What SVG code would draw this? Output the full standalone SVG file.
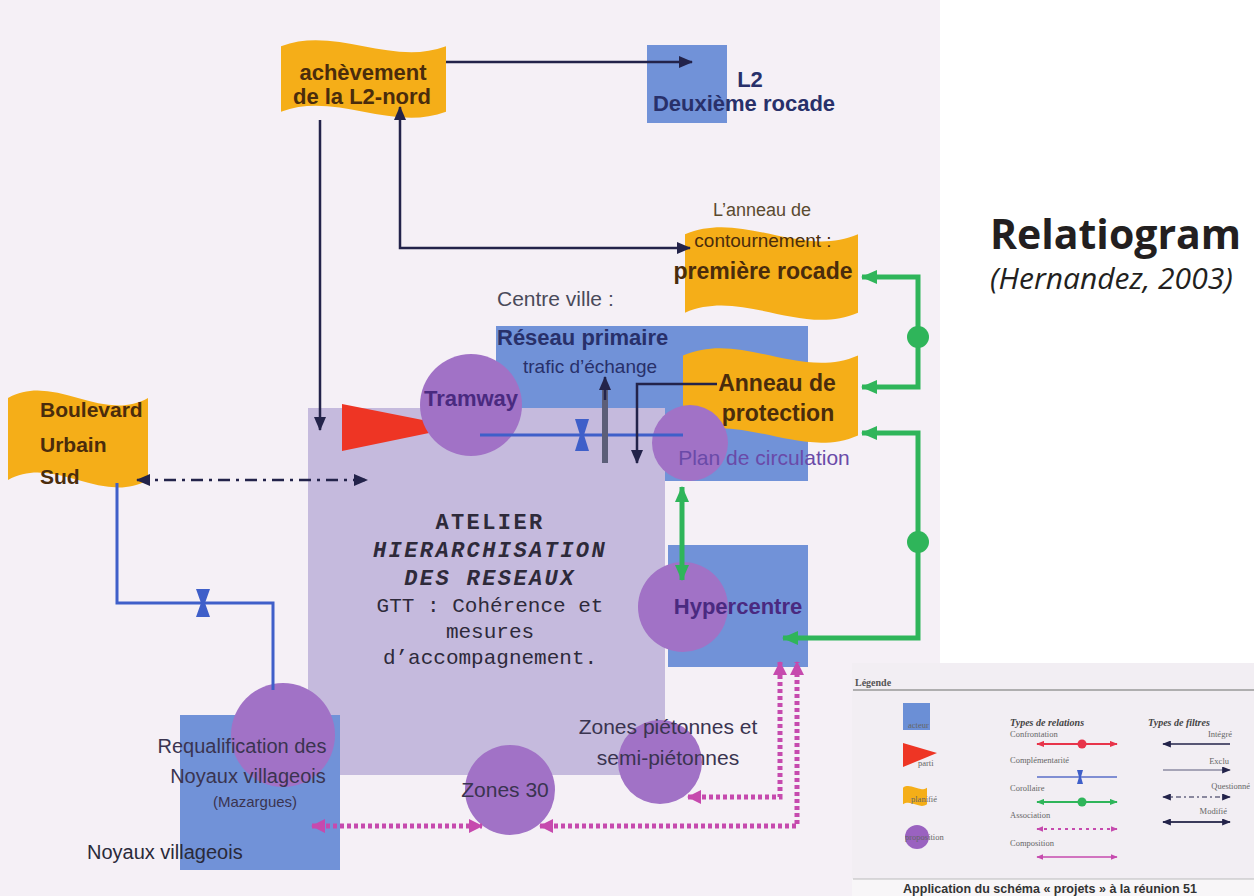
<svg xmlns="http://www.w3.org/2000/svg" width="1254" height="896" viewBox="0 0 1254 896">
<defs>
<style>
.t{font-family:"Liberation Sans",Arial,sans-serif;}
.b{font-weight:bold;}
.ft{fill:#4a2c0c;}
.nt{fill:#28306a;}
.pt{fill:#4a2a80;}
.mono{font-family:"Liberation Mono","Courier New",monospace;fill:#2e2a3a;font-size:21px;}
.monob{font-weight:bold;font-size:22px;letter-spacing:2.4px;}
.nav{stroke:#23234a;stroke-width:2.5;fill:none;}
.grn{stroke:#2fb55a;stroke-width:5;fill:none;}
.blu{stroke:#3f5fc9;stroke-width:3;fill:none;}
.pnk{stroke:#c64aae;stroke-width:5;fill:none;stroke-dasharray:4 3;}
.flag{fill:#f5ae18;}
.box{fill:#7192d8;}
.circ{fill:#a172c6;}
.bow{fill:#3f5fc9;}
.leg{font-family:"Liberation Serif","Times New Roman",serif;font-size:8.5px;fill:#666;}
.legh{font-family:"Liberation Serif","Times New Roman",serif;font-size:10px;font-style:italic;font-weight:bold;fill:#444;}
</style>
<path id="flagShape" d="M0,12 C33,-12 67,36 100,12 L100,88 C67,112 33,64 0,88 Z"/>
<marker id="ahN" viewBox="0 0 14 12" refX="13" refY="6" markerWidth="14" markerHeight="12" markerUnits="userSpaceOnUse" orient="auto-start-reverse"><path d="M0,0 L14,6 L0,12 Z" fill="#23234a"/></marker>
<marker id="ahG" viewBox="0 0 16 14" refX="15" refY="7" markerWidth="16" markerHeight="14" markerUnits="userSpaceOnUse" orient="auto-start-reverse"><path d="M0,0 L16,7 L0,14 Z" fill="#2fb55a"/></marker>
<marker id="ahP" viewBox="0 0 14 14" refX="13" refY="7" markerWidth="14" markerHeight="14" markerUnits="userSpaceOnUse" orient="auto-start-reverse"><path d="M0,0 L14,7 L0,14 Z" fill="#c64aae"/></marker>
<marker id="sR" viewBox="0 0 10 8" refX="9" refY="4" markerWidth="8" markerHeight="7" markerUnits="userSpaceOnUse" orient="auto-start-reverse"><path d="M0,0 L10,4 L0,8 Z" fill="#e8344a"/></marker>
<marker id="sG" viewBox="0 0 10 8" refX="9" refY="4" markerWidth="8" markerHeight="7" markerUnits="userSpaceOnUse" orient="auto-start-reverse"><path d="M0,0 L10,4 L0,8 Z" fill="#2fb55a"/></marker>
<marker id="sP" viewBox="0 0 10 8" refX="9" refY="4" markerWidth="7" markerHeight="6" markerUnits="userSpaceOnUse" orient="auto-start-reverse"><path d="M0,0 L10,4 L0,8 Z" fill="#c64aae"/></marker>
<marker id="sN" viewBox="0 0 10 8" refX="9" refY="4" markerWidth="9" markerHeight="7" markerUnits="userSpaceOnUse" orient="auto-start-reverse"><path d="M0,0 L10,4 L0,8 Z" fill="#23234a"/></marker>
</defs>

<rect x="0" y="0" width="1254" height="896" fill="#ffffff"/>
<rect x="0" y="0" width="940" height="896" fill="#f5f0f6"/>

<g id="title">
<text x="990" y="249" font-family="'Open Sans','Noto Sans',sans-serif" font-weight="bold" font-size="41" fill="#231f20">Relatiogram</text>
<text x="990" y="289" font-family="'Open Sans','Noto Sans',sans-serif" font-style="italic" font-size="30" fill="#231f20">(Hernandez, 2003)</text>
</g>

<g id="node-reseau-primaire">
<rect class="box" x="496" y="326" width="312" height="155"/>
<text class="t" x="497" y="306" font-size="21" fill="#4a4a5a">Centre ville :</text>
<text class="t b nt" x="497" y="345" font-size="22" fill="#2a3a80">Réseau primaire</text>
<text class="t nt" x="523" y="373" font-size="19">trafic d’échange</text>
</g>

<g id="node-atelier">
<rect x="308" y="408" width="357" height="367" fill="#c5badd"/>
<text class="mono monob" x="490" y="529" text-anchor="middle">ATELIER</text>
<text class="mono monob" x="490" y="557" text-anchor="middle" font-style="italic">HIERARCHISATION</text>
<text class="mono monob" x="490" y="585" text-anchor="middle" font-style="italic">DES RESEAUX</text>
<text class="mono" x="490" y="612" text-anchor="middle">GTT : Cohérence et</text>
<text class="mono" x="490" y="638" text-anchor="middle">mesures</text>
<text class="mono" x="490" y="664" text-anchor="middle">d’accompagnement.</text>
</g>

<g id="node-l2">
<rect class="box" x="647" y="45" width="80" height="78" fill="#7a9ad9"/>
<text class="t b nt" x="750" y="87" font-size="22" text-anchor="middle">L2</text>
<text class="t b nt" x="744" y="111" font-size="22" text-anchor="middle">Deuxième rocade</text>
</g>

<g id="node-acheve">
<use href="#flagShape" class="flag" transform="translate(281,36) scale(1.65,0.86)"/>
<text class="t b ft" x="363" y="80" font-size="22" text-anchor="middle">achèvement</text>
<text class="t b ft" x="362" y="104" font-size="22" text-anchor="middle">de la L2-nord</text>
</g>

<g id="node-contournement">
<use href="#flagShape" class="flag" transform="translate(685,222) scale(1.73,1.03)"/>
<text class="t" x="762" y="216" font-size="18" fill="#5a4a30" text-anchor="middle">L’anneau de</text>
<text class="t ft" x="763" y="247" font-size="19" text-anchor="middle">contournement :</text>
<text class="t b ft" x="763" y="279" font-size="23" text-anchor="middle">première rocade</text>
</g>

<g id="node-protection">
<use href="#flagShape" class="flag" transform="translate(683,343) scale(1.75,1.05)"/>
<text class="t b ft" x="777" y="391" font-size="23" text-anchor="middle">Anneau de</text>
<text class="t b ft" x="778" y="421" font-size="23" text-anchor="middle">protection</text>
</g>

<g id="node-boulevard">
<use href="#flagShape" class="flag" transform="translate(8,385) scale(1.40,1.08)"/>
<text class="t b ft" x="40" y="417" font-size="21">Boulevard</text>
<text class="t b ft" x="40" y="452" font-size="21">Urbain</text>
<text class="t b ft" x="40" y="484" font-size="21">Sud</text>
</g>

<g id="node-tramway">
<polygon points="342,404 342,451 458,427" fill="#ee3524"/>
<circle class="circ" cx="471" cy="405" r="51"/>
<text class="t b pt" x="471" y="406" font-size="22" text-anchor="middle">Tramway</text>
</g>

<g id="node-plan">
<circle class="circ" cx="690" cy="443" r="38"/>
<text class="t" x="764" y="465" font-size="21" fill="#6a4aa8" text-anchor="middle">Plan de circulation</text>
</g>

<g id="node-hypercentre">
<rect class="box" x="668" y="545" width="140" height="122"/>
<circle class="circ" cx="683" cy="607" r="45"/>
<text class="t b pt" x="738" y="614" font-size="22" text-anchor="middle">Hypercentre</text>
</g>

<g id="node-noyaux">
<rect class="box" x="180" y="715" width="160" height="155"/>
<circle class="circ" cx="283" cy="735" r="52"/>
<text class="t" x="242" y="753" font-size="20" fill="#3a3450" text-anchor="middle">Requalification des</text>
<text class="t" x="248" y="783" font-size="20" fill="#3a3450" text-anchor="middle">Noyaux villageois</text>
<text class="t" x="255" y="807" font-size="15" fill="#3a3450" text-anchor="middle">(Mazargues)</text>
<text class="t" x="87" y="859" font-size="20" fill="#2a2a3a">Noyaux villageois</text>
</g>

<g id="node-zones30">
<circle class="circ" cx="510" cy="790" r="45"/>
<text class="t" x="505" y="797" font-size="21" fill="#3a3450" text-anchor="middle">Zones 30</text>
</g>

<g id="node-pietonnes">
<circle class="circ" cx="660" cy="762" r="42"/>
<text class="t" x="668" y="734" font-size="21" fill="#3a3450" text-anchor="middle">Zones piétonnes et</text>
<text class="t" x="668" y="765" font-size="21" fill="#3a3450" text-anchor="middle">semi-piétonnes</text>
</g>

<g id="connectors">
<path class="nav" d="M446,62 H692" marker-end="url(#ahN)"/>
<path class="nav" d="M320,120 V430" marker-end="url(#ahN)"/>
<path class="nav" d="M400,107 V248 H690" marker-start="url(#ahN)" marker-end="url(#ahN)"/>
<path class="nav" d="M137,480 H367" stroke-dasharray="12 6 3 6" marker-start="url(#ahN)" marker-end="url(#ahN)"/>
<path class="blu" d="M117,483 V603 H273 V690"/>
<path class="bow" d="M196,589 H210 L205,603 L210,617 H196 L201,603 Z"/>
<path class="blu" d="M480,435 H683"/>
<path class="bow" d="M575,419 H589 L584,435 L589,451 H575 L580,435 Z"/>
<path d="M605,463 V384" stroke="#5c5e78" stroke-width="6" fill="none"/>
<path class="nav" d="M605,400 V377" marker-end="url(#ahN)"/>
<path class="nav" d="M717,384 H637 V463" marker-end="url(#ahN)"/>
<path class="grn" d="M862,277 H918 V387 H862" marker-start="url(#ahG)" marker-end="url(#ahG)"/>
<circle cx="918" cy="337" r="11" fill="#2fb55a"/>
<path class="grn" d="M862,433 H918 V638 H783" marker-start="url(#ahG)" marker-end="url(#ahG)"/>
<circle cx="918" cy="542" r="11" fill="#2fb55a"/>
<path class="grn" d="M682,487 V580" stroke-width="4" marker-start="url(#ahG)" marker-end="url(#ahG)"/>
<path class="pnk" d="M688,797 H780 V662" marker-start="url(#ahP)" marker-end="url(#ahP)"/>
<path class="pnk" d="M312,826 H482" marker-start="url(#ahP)" marker-end="url(#ahP)"/>
<path class="pnk" d="M540,826 H797 V662" marker-start="url(#ahP)" marker-end="url(#ahP)"/>
</g>

<g id="legend">
<rect x="852" y="663" width="402" height="233" fill="#f2eef3"/>
<rect x="852" y="879" width="402" height="17" fill="#f8f6f8"/>
<text x="855" y="686" font-family="'Liberation Serif',serif" font-size="10" font-weight="bold" fill="#555">Légende</text>
<line x1="853" y1="690" x2="1254" y2="690" stroke="#999" stroke-width="1.5"/>
<rect x="903" y="703" width="27" height="27" fill="#6b8fd6"/>
<text class="leg" x="908" y="728" font-size="7">acteur</text>
<polygon points="903,743 903,767 937,753" fill="#ee3524"/>
<text class="leg" x="918" y="766" font-size="7">parti</text>
<use href="#flagShape" class="flag" transform="translate(903,785) scale(0.24,0.22)"/>
<text class="leg" x="911" y="802" font-size="7">planifié</text>
<circle cx="917" cy="837" r="12" fill="#9a62c0"/>
<text class="leg" x="905" y="840" font-size="7">proposition</text>
<text class="legh" x="1010" y="726">Types de relations</text>
<text class="leg" x="1010" y="737">Confrontation</text>
<path d="M1037,744 H1117" stroke="#e8344a" stroke-width="2" marker-start="url(#sR)" marker-end="url(#sR)"/>
<circle cx="1082" cy="744" r="4.5" fill="#e8344a"/>
<text class="leg" x="1010" y="763">Complémentarité</text>
<path d="M1037,777 H1117" stroke="#5a6ec8" stroke-width="1.5"/>
<path class="bow" d="M1077,770 H1083 L1081,777 L1083,784 H1077 L1079,777 Z"/>
<text class="leg" x="1010" y="791">Corollaire</text>
<path d="M1037,802 H1117" stroke="#2fb55a" stroke-width="2" marker-start="url(#sG)" marker-end="url(#sG)"/>
<circle cx="1082" cy="802" r="4.5" fill="#2fb55a"/>
<text class="leg" x="1010" y="818">Association</text>
<path d="M1037,829 H1117" stroke="#c64aae" stroke-width="1.8" stroke-dasharray="3 4" marker-start="url(#sP)" marker-end="url(#sP)"/>
<text class="leg" x="1010" y="846">Composition</text>
<path d="M1037,857 H1117" stroke="#c64aae" stroke-width="1.5" marker-start="url(#sP)" marker-end="url(#sP)"/>
<text class="legh" x="1148" y="726">Types de filtres</text>
<text class="leg" x="1232" y="737" text-anchor="end">Intégré</text>
<path d="M1230,744 H1163" stroke="#23234a" stroke-width="1.5" marker-end="url(#sN)"/>
<text class="leg" x="1229" y="764" text-anchor="end">Exclu</text>
<path d="M1163,770 H1230" stroke="#5a5a7a" stroke-width="1" marker-end="url(#sN)"/>
<text class="leg" x="1250" y="789" text-anchor="end">Questionné</text>
<path d="M1163,797 H1230" stroke="#23234a" stroke-width="1.2" stroke-dasharray="5 3 2 3" marker-start="url(#sN)" marker-end="url(#sN)"/>
<text class="leg" x="1227" y="814" text-anchor="end">Modifié</text>
<path d="M1163,822 H1230" stroke="#3a3a5a" stroke-width="2" marker-start="url(#sN)" marker-end="url(#sN)"/>
<line x1="853" y1="879" x2="1254" y2="879" stroke="#bbb" stroke-width="1"/>
<text x="1050" y="893" font-family="'Liberation Sans',Arial,sans-serif" font-size="12.5" font-weight="bold" fill="#333" text-anchor="middle">Application du schéma « projets » à la réunion 51</text>
</g>
</svg>
